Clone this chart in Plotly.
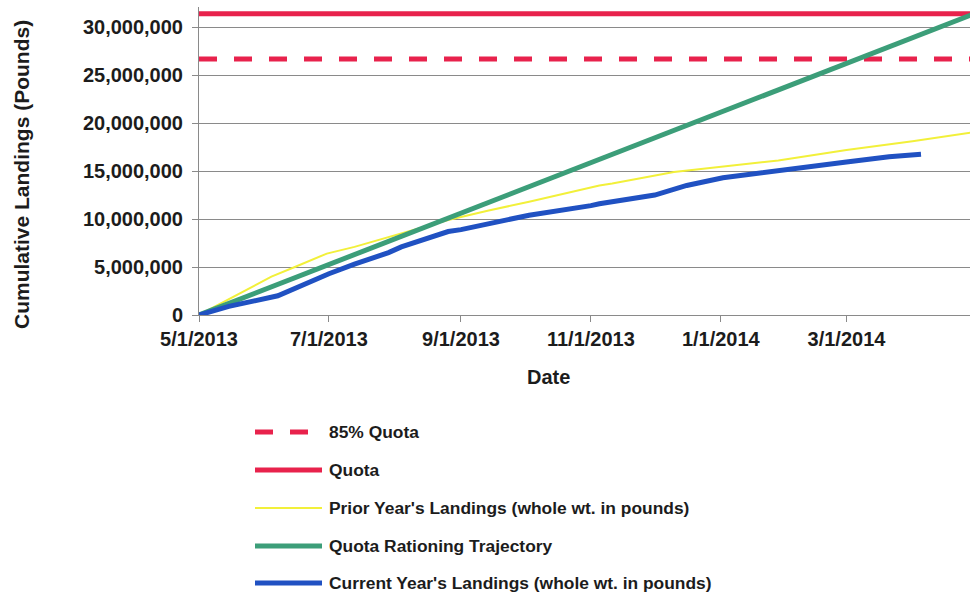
import plotly.graph_objects as go

# ---------------- data ----------------
quota = 31_400_000
quota_85 = 0.85 * quota

axis_start = "2013-05-01"
axis_end = "2014-04-28"
season_end = "2014-04-30"

prior_dates = ["2013-05-01", "2013-05-22", "2013-06-04", "2013-06-15", "2013-06-30",
               "2013-07-13", "2013-08-04", "2013-08-26", "2013-09-14", "2013-10-03",
               "2013-11-05", "2013-11-11", "2013-12-10", "2014-01-02", "2014-01-28",
               "2014-03-01", "2014-04-01", "2014-04-30"]
prior_vals = [0, 2.45e6, 4.0e6, 5.0e6, 6.4e6,
              7.1e6, 8.5e6, 9.9e6, 10.9e6, 11.8e6,
              13.5e6, 13.7e6, 14.9e6, 15.45e6, 16.1e6,
              17.2e6, 18.1e6, 19.05e6]

traj_dates = ["2013-05-01", season_end]
traj_vals = [0, quota]

current_dates = ["2013-05-01", "2013-05-15", "2013-06-07", "2013-07-01", "2013-07-13",
                 "2013-07-29", "2013-08-04", "2013-08-26", "2013-09-01", "2013-09-19",
                 "2013-10-03", "2013-11-01", "2013-11-05", "2013-12-01", "2013-12-16",
                 "2014-01-02", "2014-01-12", "2014-01-28", "2014-02-12", "2014-03-01",
                 "2014-03-21", "2014-04-05"]
current_vals = [0, 0.9e6, 2.0e6, 4.3e6, 5.3e6,
                6.5e6, 7.1e6, 8.7e6, 8.9e6, 9.7e6,
                10.4e6, 11.4e6, 11.6e6, 12.5e6, 13.5e6,
                14.3e6, 14.6e6, 15.0e6, 15.4e6, 15.95e6,
                16.5e6, 16.75e6]

legend_labels = ["85% Quota", "Quota", "Prior Year's Landings (whole wt. in pounds)",
                 "Quota Rationing Trajectory", "Current Year's Landings (whole wt. in pounds)"]
x_title = "Date"
y_title = "Cumulative Landings (Pounds)"

# ---------------- style ----------------
RED = "#E8224C"
YELLOW = "#F2F03A"
GREEN = "#3C9E79"
BLUE = "#2051C2"
GRID = "#8a8a8a"
TXT = "#1c1c1c"
FONT = "Liberation Sans, Arial, sans-serif"

W, H = 970, 592
L, R, T, B = 199, 0, 7, 277
PW, PH = W - L - R, H - T - B

fig = go.Figure()
fig.add_trace(go.Scatter(x=[axis_start, season_end], y=[quota_85, quota_85], mode="lines",
                         line=dict(color=RED, width=5, dash="18px,17px"), name=legend_labels[0]))
fig.add_trace(go.Scatter(x=[axis_start, season_end], y=[quota, quota], mode="lines",
                         line=dict(color=RED, width=5), name=legend_labels[1]))
fig.add_trace(go.Scatter(x=prior_dates, y=prior_vals, mode="lines",
                         line=dict(color=YELLOW, width=2), name=legend_labels[2]))
fig.add_trace(go.Scatter(x=traj_dates, y=traj_vals, mode="lines",
                         line=dict(color=GREEN, width=5), name=legend_labels[3]))
fig.add_trace(go.Scatter(x=current_dates, y=current_vals, mode="lines",
                         line=dict(color=BLUE, width=5), name=legend_labels[4]))


def px_x(p):
    return (p - L) / PW


def px_y(p):
    return (H - B - p) / PH


# manual legend below the chart (pixel coordinates)
rows = [432, 470, 508, 546, 583]
styles = [(RED, 5, "18px,17px", 308), (RED, 5, "solid", 322), (YELLOW, 2, "solid", 322),
          (GREEN, 5, "solid", 322), (BLUE, 5, "solid", 322)]
shapes = []
annotations = []
for lbl, ry, (c, w, d, xe) in zip(legend_labels, rows, styles):
    shapes.append(dict(type="line", xref="paper", yref="paper",
                       x0=px_x(255), x1=px_x(xe), y0=px_y(ry), y1=px_y(ry),
                       line=dict(color=c, width=w, dash=d)))
    annotations.append(dict(xref="paper", yref="paper", x=px_x(327), y=px_y(ry),
                            xanchor="left", yanchor="middle", showarrow=False,
                            text="<b>%s</b>" % lbl.replace("'", "&#39;"),
                            font=dict(family=FONT, size=17.4, color=TXT)))

# axis titles
annotations.append(dict(xref="paper", yref="paper", x=px_x(548), y=px_y(377),
                        xanchor="center", yanchor="middle", showarrow=False,
                        text="<b>%s</b>" % x_title,
                        font=dict(family=FONT, size=20, color=TXT)))
annotations.append(dict(xref="paper", yref="paper", x=px_x(21), y=px_y(175),
                        xanchor="center", yanchor="middle", showarrow=False,
                        textangle=-90, text="<b>%s</b>" % y_title,
                        font=dict(family=FONT, size=21, color=TXT)))

fig.update_layout(
    width=W, height=H,
    margin=dict(l=L, r=R, t=T, b=B),
    paper_bgcolor="white", plot_bgcolor="white",
    showlegend=False,
    font=dict(family=FONT, color=TXT),
    shapes=shapes,
    annotations=annotations,
)
fig.update_xaxes(
    type="date", range=[axis_start, axis_end],
    tick0=axis_start, dtick="M2", tickformat="%-m/%-d/%Y",
    showgrid=False, showline=True, linecolor=GRID, linewidth=1,
    ticks="outside", ticklen=6, tickcolor=GRID,
    tickfont=dict(family=FONT, size=20, color=TXT, weight="bold"),
)
fig.update_yaxes(
    range=[0, 32_100_000], tick0=0, dtick=5_000_000, tickformat=",d",
    showgrid=True, gridcolor=GRID, gridwidth=1, zeroline=False,
    showline=True, linecolor=GRID, linewidth=1,
    ticks="outside", ticklen=6, tickcolor=GRID, ticklabelstandoff=5,
    tickfont=dict(family=FONT, size=20, color=TXT, weight="bold"),
)

fig.write_html(
    "out.html",
    config={"displayModeBar": False},
    post_script="document.body.style.margin='0';document.body.style.overflow='hidden';",
)
